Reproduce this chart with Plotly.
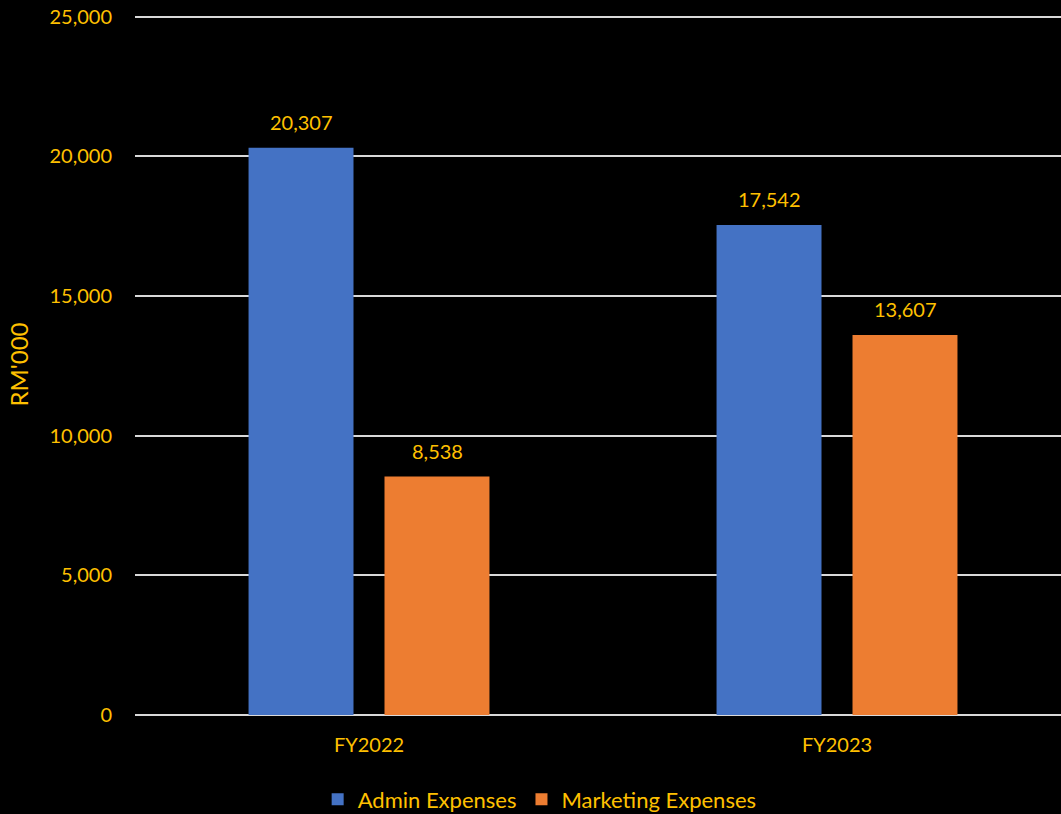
import plotly.graph_objects as go

categories = ["FY2022", "FY2023"]
admin = [20307, 17542]
marketing = [8538, 13607]
series_names = ["Admin Expenses", "Marketing Expenses"]
tick_vals = [0, 5000, 10000, 15000, 20000, 25000]

gold = "#FFC000"
font_family = "Lato, 'Open Sans', sans-serif"

fig = go.Figure()
fig.add_bar(x=categories, y=admin, name=series_names[0], marker_color="#4472C4",
            marker_line_width=0)
fig.add_bar(x=categories, y=marketing, name=series_names[1], marker_color="#ED7D31",
            marker_line_width=0)

# data labels above bars
for vals, xs in ((admin, -68), (marketing, 68)):
    for c, v in zip(categories, vals):
        fig.add_annotation(x=c, y=v, text=f"{v:,}", showarrow=False,
                           xshift=xs, yshift=12, yanchor="bottom",
                           font=dict(color=gold, size=20, family=font_family))

fig.update_layout(
    width=1061, height=814,
    margin=dict(l=135, r=0, t=14, b=99, autoexpand=False),
    paper_bgcolor="black", plot_bgcolor="black",
    font=dict(family=font_family, color=gold, size=20),
    barmode="group", bargap=0.419, bargroupgap=0.228,
    showlegend=True,
    legend=dict(orientation="h", x=0.437, xanchor="center", yref="container",
                y=0.018, yanchor="middle",
                font=dict(size=22, color=gold), bgcolor="rgba(0,0,0,0)",
                traceorder="normal", itemwidth=30),
    xaxis=dict(range=[-0.5, 1.4786], showgrid=False, showline=False, zeroline=False,
               ticks="", tickfont=dict(size=20, color=gold), ticklabelstandoff=16),
    yaxis=dict(range=[0, 25100], tickvals=tick_vals, tickformat=",d",
               showgrid=True, gridcolor="#D9D9D9", gridwidth=2,
               zeroline=True, zerolinecolor="#D9D9D9", zerolinewidth=2,
               showline=False, ticks="", ticklabelstandoff=22,
               tickfont=dict(size=20, color=gold),
               title=dict(text="RM'000", font=dict(size=24, color=gold), standoff=14)),
)

fig.write_html("out.html")
